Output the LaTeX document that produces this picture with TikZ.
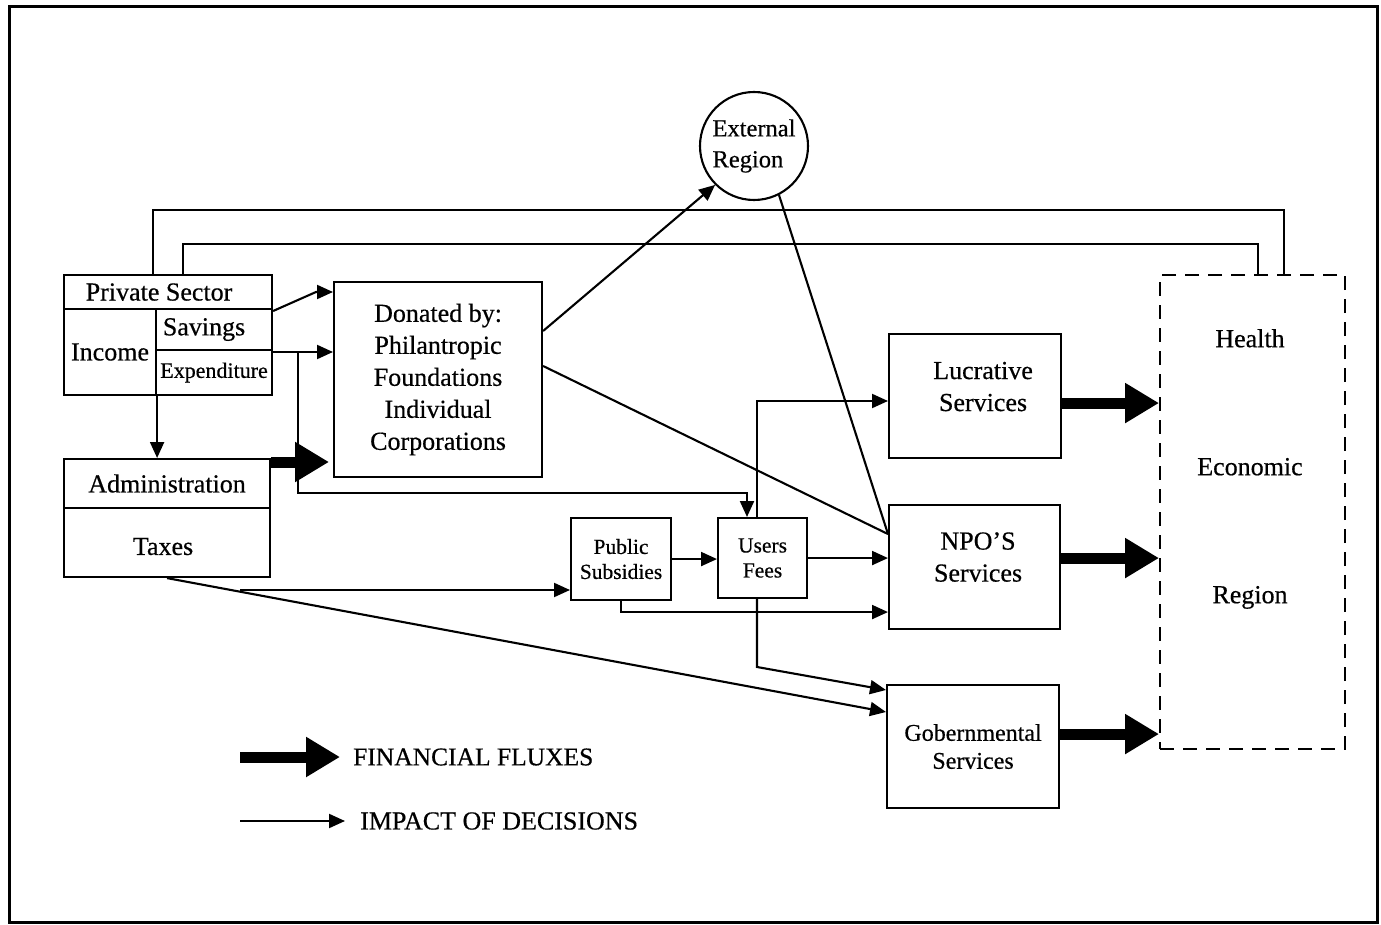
\documentclass[tikz,border=0pt]{standalone}
\usepackage{fontspec}
\setmainfont{Liberation Serif}[FakeBold=0.5]
\usetikzlibrary{arrows.meta,shapes.geometric}
\newcommand\fbig{\fontsize{26}{32}\selectfont}
\newcommand\fexp{\fontsize{22}{26}\selectfont}
\newcommand\fgob{\fontsize{24}{28}\selectfont}
\newcommand\fext{\fontsize{24.5}{31}\selectfont}
\newcommand\fsm{\fontsize{21.5}{25}\selectfont}
\newcommand\fher{\fontsize{26}{128}\selectfont}
\newcommand\fleg{\fontsize{25.5}{30}\selectfont}
\begin{document}
\begin{tikzpicture}[x=1pt,y=-1pt,
  conn/.style={line width=2.1pt},
  arr/.style={conn,-{Triangle[length=16pt,width=14pt]}},
  flux/.style={line width=11pt,-{Triangle[length=34pt,width=38pt]}},
  box/.style={draw,line width=2.1pt,inner sep=0pt,align=center,anchor=north west,font=\fbig},
  lbl/.style={align=center,inner sep=0pt,font=\fbig}]
\useasboundingbox (0,0) rectangle (1381,925);
\draw[line width=3pt] (9,7) rectangle (1377,922);

% private sector block
\node[box,minimum width=208pt,minimum height=34pt,label={[lbl,xshift=-9pt]center:Private Sector}] (ps) at (63,274) {};
\node[box,minimum width=92pt,minimum height=86pt] (inc) at (63,308) {Income};
\node[box,minimum width=116pt,minimum height=41pt,label={[lbl,xshift=-10pt]center:Savings}] (sav) at (155,308) {};
\node[box,minimum width=116pt,minimum height=45pt,font=\fexp] (exp) at (155,349) {Expenditure};
\node[box,minimum width=206pt,minimum height=49pt] (adm) at (63,458) {Administration};
\node[box,minimum width=206pt,minimum height=69pt,label={[lbl,xshift=-4pt,yshift=-4pt]center:Taxes}] (tax) at (63,507) {};

% donors
\node[box,minimum width=208pt,minimum height=195pt] (don) at (333,281) {Donated by:\\Philantropic\\Foundations\\Individual\\Corporations};

% external region
\node[circle,draw,line width=2.1pt,minimum size=108pt,inner sep=0pt,align=left,font=\fext] (ext) at (754,146) {External\\Region};

% services
\node[box,minimum width=172pt,minimum height=124pt,label={[lbl,xshift=8pt,yshift=9.5pt]center:{Lucrative\\Services}}] (lucr) at (888,333) {};
\node[box,minimum width=171pt,minimum height=124pt,label={[lbl,xshift=3.5pt,yshift=10pt]center:{NPO'S\\Services}}] (npo) at (888,504) {};
\node[box,minimum width=172pt,minimum height=123pt,font=\fgob] (gob) at (886,684) {Gobernmental\\Services};

% subsidies and fees
\node[box,minimum width=100pt,minimum height=82pt,font=\fsm] (pub) at (570,517) {Public\\Subsidies};
\node[box,minimum width=89pt,minimum height=80pt,font=\fsm] (users) at (717,517) {Users\\Fees};

% health economic region
\node[draw,line width=2.4pt,dash pattern=on 14pt off 9pt,anchor=north west,minimum width=185pt,minimum height=474pt,inner sep=0pt] (her) at (1159,274) {};
\node[inner sep=0pt,align=center,font=\fher] (herT) at (1250,469) {Health\\Economic\\Region};

% top feedback lines
\coordinate (t1) at (153,210); \coordinate (t1r) at (1284,210);
\draw[conn] (ps.north -| t1) -- (t1) -- (t1r) -- (her.north -| t1r);
\coordinate (t2) at (183,244); \coordinate (t2r) at (1258,244);
\draw[conn] (ps.north -| t2) -- (t2) -- (t2r) -- (her.north -| t2r);

% savings -> donated
\coordinate (k1) at (316,292);
\draw[arr] ([shift={(0,3)}]sav.north east) -- (k1) -- (k1 -| don.west);
% expenditure -> donated and -> users fees
\coordinate (j1) at (298,352);
\draw[arr] (exp.north east |- j1) -- (j1 -| don.west);
\coordinate (j2) at (298,493); \coordinate (j3) at (747,493);
\draw[arr] (j1) -- (j2) -- (j3) -- (j3 |- users.north);
% income -> administration
\draw[arr] (inc.south east) -- (inc.south east |- adm.north);
% administration -> donated (financial)
\coordinate (fa) at ([shift={(0,4)}]adm.north east);
\draw[flux,shorten >=4pt] (fa) -- (fa -| don.west);

% donated -> external, external -> npo, donated -> npo
\draw[arr] ([shift={(0,50)}]don.north east) -- (ext.south west);
\draw[conn] (ext.-63) -- ([shift={(0,-33)}]npo.west);
\draw[conn] ([shift={(0,85)}]don.north east) -- ([shift={(0,-33)}]npo.west);

% subsidies / fees
\draw[arr] (pub.east) -- (pub.east -| users.west);
\draw[arr] (users.east) -- (users.east -| npo.west);
\coordinate (u1) at (757,401);
\draw[arr] (users.north -| u1) -- (u1) -- (u1 -| lucr.west);
\draw[arr] (pub.south) |- ([shift={(0,45)}]npo.west);
\coordinate (u2) at (757,667);
\draw[arr] (users.south -| u2) -- (u2) -- ([shift={(0,6)}]gob.north west);

% taxes
\draw[arr] (tax.south) -- ([shift={(0,28)}]gob.north west);
\coordinate (b1) at (240,590);
\draw[arr] (b1) -- (b1 -| pub.west);

% financial fluxes to region
\coordinate (q1) at ([shift={(0,7)}]lucr.east);
\draw[flux] (q1) -- (q1 -| her.west);
\coordinate (q2) at ([shift={(0,-9)}]npo.east);
\draw[flux] (q2) -- (q2 -| her.west);
\coordinate (q3) at ([shift={(0,-12.5)}]gob.east);
\draw[flux] (q3) -- (q3 -| her.west);

% legend
\coordinate (l1) at (240,757); \coordinate (l1e) at (340,757);
\draw[flux] (l1) -- (l1e);
\node[anchor=west,inner sep=0pt,font=\fleg] (finT) at (353,757) {FINANCIAL FLUXES};
\coordinate (l2) at (240,821); \coordinate (l2e) at (345,821);
\draw[arr] (l2) -- (l2e);
\node[anchor=west,inner sep=0pt,font=\fbig] (impT) at (360,821) {IMPACT OF DECISIONS};
\end{tikzpicture}
\end{document}
